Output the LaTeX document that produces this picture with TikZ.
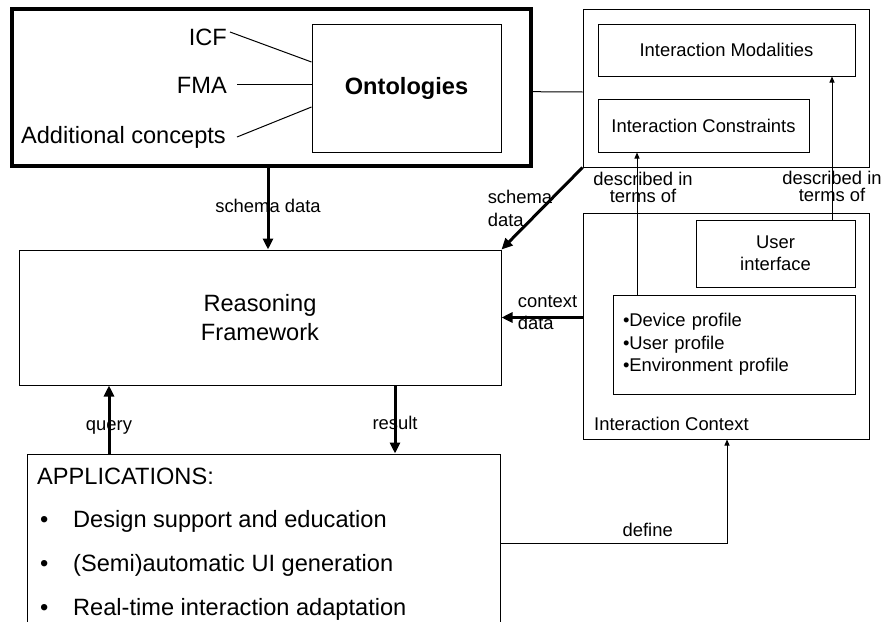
\documentclass[tikz,border=0pt]{standalone}
\usepackage{fontspec}
\setmainfont{Liberation Sans}
\usetikzlibrary{arrows.meta}

\newcommand{\bigfont}{\fontsize{23.6}{29}\selectfont}
\newcommand{\smallfont}{\fontsize{18.4}{22.5}\selectfont}

\tikzstyle{box}=[draw,line width=1pt,inner sep=0pt,align=center,font=\smallfont]
\tikzstyle{heavybox}=[draw,line width=4pt,inner sep=0pt]
\tikzstyle{lbl}=[inner sep=0pt,font=\bigfont]
\tikzstyle{note}=[inner sep=0pt,font=\smallfont,align=center]
\tikzstyle{fat}=[line width=3pt,-{Triangle[length=11pt,width=10pt]}]
\tikzstyle{slim}=[line width=1pt,-{Triangle[length=6pt,width=5pt]}]

\begin{document}
\begin{tikzpicture}[x=1pt,y=-1pt]
    \useasboundingbox (0,0) rectangle (883,621);
    \clip (0,0) rectangle (883,621);
    % ontology part
    \node (ontobox)[heavybox,minimum width=519pt,minimum height=157pt] at (271.3,87.7) {};
    \node (onto)[box,font=\bigfont\bfseries,minimum width=189pt,minimum height=128pt] at (406.5,88) {Ontologies};
    \node (icf)[lbl,anchor=base east] at (227,45.5) {ICF};
    \node (fma)[lbl,anchor=base east] at (227,93.5) {FMA};
    \node (addc)[lbl,anchor=base east] at (226,143.5) {Additional concepts};
    \path[line width=1pt] ([xshift=3pt,yshift=13.5pt]icf.base east) edge ([yshift=26pt]onto.west);
    \path[line width=1pt] ([xshift=10pt,yshift=9.5pt]fma.base east) edge ([yshift=4pt]onto.west);
    \path[line width=1pt] ([xshift=11pt,yshift=6.5pt]addc.base east) edge ([yshift=-19pt]onto.west);
    % interaction part
    \node (modbox)[box,minimum width=286pt,minimum height=158pt] at (726,88) {};
    \node (modal)[box,minimum width=257pt,minimum height=52pt] at (726.5,50) {Interaction Modalities};
    \node (constr)[box,minimum width=211pt,minimum height=53pt] at (703.5,125.5) {Interaction Constraints};
    \path[line width=1pt] ([yshift=-4pt]ontobox.east) edge ([yshift=-4pt]modbox.west);
    \node (ctxbox)[box,minimum width=286pt,minimum height=226pt] at (726,326) {};
    \node (ui)[box,minimum width=159pt,minimum height=67pt] at (775.5,253.5) {User\\interface};
    \node (prof)[box,align=left,inner xsep=10pt,text width=222pt,minimum height=99pt] at (734,344.5)
        {\textbullet Device profile\\\textbullet User profile\\\textbullet Environment profile};
    \node (ctxlbl)[note,anchor=base west] at (594,430.6) {Interaction Context};
    % reasoning and applications
    \node (reason)[box,font=\bigfont,minimum width=482pt,minimum height=135pt] at (260,317.5) {Reasoning\\Framework};
    \node (apps)[box,minimum width=473pt,minimum height=246pt] at (263.5,577) {};
    \node (appttl)[lbl,anchor=base west] at (37,484) {APPLICATIONS:};
    \node (app1)[lbl,anchor=base west] at (40,527.5) {\makebox[33pt][l]{\textbullet}Design support and education};
    \node (app2)[lbl,anchor=base west] at (40,571.5) {\makebox[33pt][l]{\textbullet}(Semi)automatic UI generation};
    \node (app3)[lbl,anchor=base west] at (40,615.5) {\makebox[33pt][l]{\textbullet}Real-time interaction adaptation};
    % connectors
    \coordinate (sx) at (268,0);
    \coordinate (qx) at (109,0);
    \coordinate (rx) at (395,0);
    \coordinate (cx) at (637,0);
    \coordinate (ux) at (832,0);
    \coordinate (defc) at (727,543);
    \path[fat] (sx |- ontobox.south) edge node[note,pos=0.47] {schema data} (sx |- reason.north);
    \path[fat] (modbox.south west) edge node[note,align=left,pos=0.5,xshift=-22pt] {schema\\data} (reason.north east);
    \path[fat] (ctxbox.west |- reason.east) edge node[note,align=left,pos=0.5,xshift=5.5pt,yshift=5pt] {context\\data} (reason.east);
    \path[fat] (qx |- apps.north) edge node[note,pos=0.39] {query} (qx |- reason.south);
    \path[fat] (rx |- reason.south) edge node[note,pos=0.555] {result} (rx |- apps.north);
    \path[slim] (cx |- prof.north) edge node[note,font=\fontsize{18.4}{17}\selectfont,pos=0.755,xshift=6pt] {described in\\terms of} (cx |- constr.south);
    \path[slim] (ux |- ui.north) edge node[note,font=\fontsize{18.4}{17}\selectfont,pos=0.23] {described in\\terms of} (ux |- modal.south);
    \draw[slim] (defc -| apps.east) -- node[note,above=6pt,pos=0.65] {define} (defc) -- (defc |- ctxbox.south);
\end{tikzpicture}
\end{document}
